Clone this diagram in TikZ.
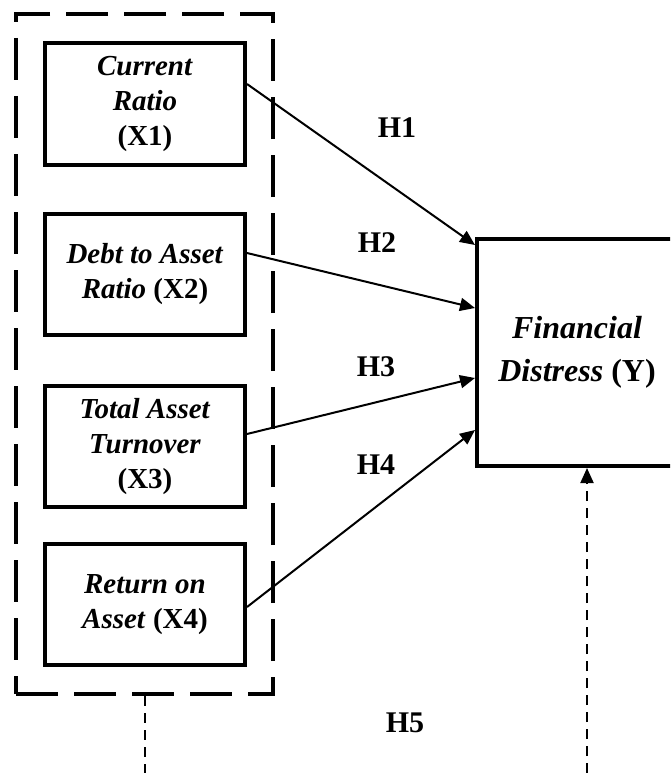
\documentclass[tikz,border=0pt]{standalone}
\usepackage{fontspec}
\setmainfont{Liberation Serif}
\usetikzlibrary{arrows.meta,positioning}

\begin{document}
\begin{tikzpicture}[x=1pt,y=1pt,on grid,
    varbox/.style={draw,line width=4pt,minimum width=200pt,minimum height=121pt,align=center,font=\fontsize{29}{35}\selectfont\bfseries},
    depbox/.style={draw,line width=4pt,minimum width=200pt,minimum height=227pt,align=center,font=\fontsize{32}{43}\selectfont\bfseries},
    groupbox/.style={draw,line width=4pt,dash pattern=on 42pt off 16pt,minimum width=257pt,minimum height=680pt},
    hyp/.style={line width=2pt,-{Triangle[length=15pt,width=13pt]}},
    link/.style={line width=2pt,dash pattern=on 10pt off 7pt},
    hlabel/.style={font=\fontsize{30}{36}\selectfont\bfseries}]
    \useasboundingbox (0,0) rectangle (670,-773);
    \clip (0,0) rectangle (670,-773);

    \node[groupbox] (grp) at (144.5,-354) {};
    \node[varbox] (x1) at (145,-104) {\textit{Current}\\\textit{Ratio}\\(X1)};
    \node[varbox] (x2) [below=170.5pt of x1] {\textit{Debt to Asset}\\\textit{Ratio} (X2)};
    \node[varbox] (x3) [below=172pt of x2] {\textit{Total Asset}\\\textit{Turnover}\\(X3)};
    \node[varbox] (x4) [below=158pt of x3] {\textit{Return on}\\\textit{Asset} (X4)};
    \node[depbox] (y) at (577,-352.5) {\textit{Financial}\\\textit{Distress} (Y)};

    \node[hlabel] (h1) at (397,-128) {H1};
    \node[hlabel] (h2) at (377,-243) {H2};
    \node[hlabel] (h3) at (376,-367) {H3};
    \node[hlabel] (h4) at (376,-465) {H4};
    \node[hlabel] (h5) at (405,-723) {H5};

    \draw[hyp] ([yshift=20pt]x1.east) -- ([yshift=107.5pt]y.west);
    \draw[hyp] ([yshift=21.5pt]x2.east) -- ([yshift=44.5pt]y.west);
    \draw[hyp] ([yshift=12.5pt]x3.east) -- ([yshift=-25.5pt]y.west);
    \draw[hyp] ([yshift=-2.5pt]x4.east) -- ([yshift=-77.5pt]y.west);

    % moderating links, cut off at the bottom edge
    \coordinate (lb) at (144.5,-773);
    \coordinate (rb) at (587,-773);
    \draw[link] (grp.south) -- (lb);
    \draw[link,-{Triangle[length=15pt,width=13pt]}] (rb) -- ([xshift=10pt]y.south);
\end{tikzpicture}
\end{document}
